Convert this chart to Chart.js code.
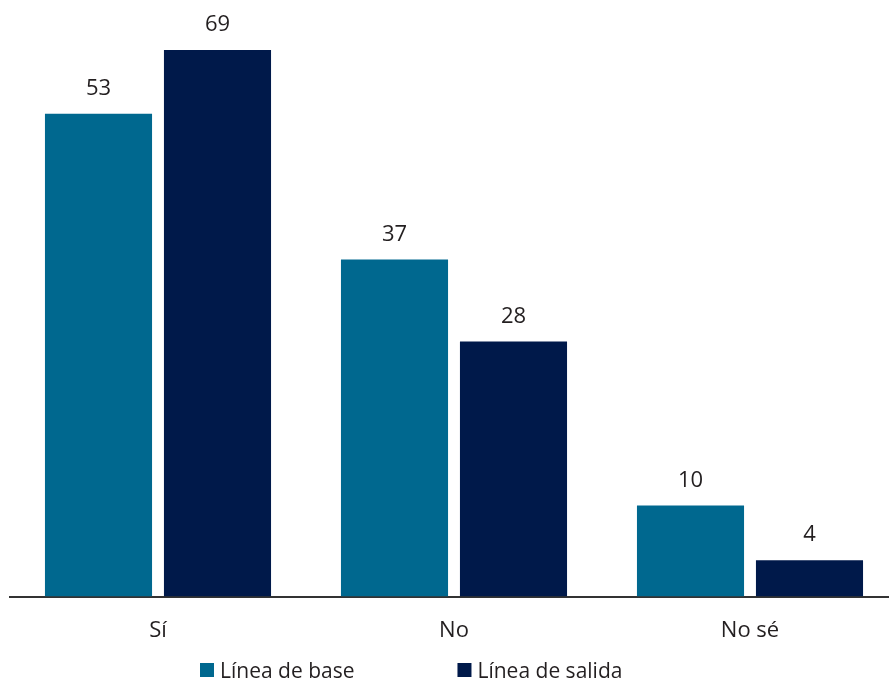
<!DOCTYPE html>
<html>
<head>
<meta charset="utf-8">
<script src="https://cdn.jsdelivr.net/npm/chart.js@4"></script>
<style>
  html, body { margin: 0; padding: 0; background: #fff; overflow: hidden; width: 889px; height: 682px; }
  #wrap { position: relative; width: 898px; height: 682px; }
</style>
</head>
<body>
<div id="wrap"><canvas id="c" width="898" height="682"></canvas></div>
<script>
const categories = ['Sí', 'No', 'No sé'];
const seriesNames = ['Línea de base', 'Línea de salida'];
const baseValues = [53, 37, 10];
const exitValues = [69, 28, 4];
const seriesColors = ['#00688F', '#00194A'];
const yMax = 60;

const FONT = '"Open Sans", "Noto Sans", sans-serif';
const TEXT_COLOR = '#231F20';

const valueLabels = {
  id: 'valueLabels',
  afterDatasetsDraw(chart) {
    const ctx = chart.ctx;
    const top = chart.chartArea.top;
    ctx.save();
    ctx.font = '22px ' + FONT;
    ctx.fillStyle = TEXT_COLOR;
    ctx.textAlign = 'center';
    ctx.textBaseline = 'alphabetic';
    chart.data.datasets.forEach((ds, i) => {
      const meta = chart.getDatasetMeta(i);
      meta.data.forEach((bar, j) => {
        const y = Math.max(bar.y, top);
        ctx.fillText(String(ds.data[j]), bar.x, y - 19);
      });
    });
    ctx.restore();
  }
};

const customLegend = {
  id: 'customLegend',
  afterDraw(chart) {
    const ctx = chart.ctx;
    ctx.save();
    ctx.font = '21px ' + FONT;
    ctx.textBaseline = 'alphabetic';
    ctx.textAlign = 'left';
    let x = 200;
    const baseline = 678;
    chart.data.datasets.forEach((ds, i) => {
      ctx.fillStyle = ds.backgroundColor;
      ctx.fillRect(x, baseline - 15, 14, 14);
      ctx.fillStyle = TEXT_COLOR;
      ctx.fillText(ds.label, x + 20, baseline);
      x += 20 + ctx.measureText(ds.label).width + 103;
    });
    ctx.restore();
  }
};

new Chart(document.getElementById('c'), {
  type: 'bar',
  data: {
    labels: categories,
    datasets: [
      { label: seriesNames[0], data: baseValues, backgroundColor: seriesColors[0] },
      { label: seriesNames[1], data: exitValues, backgroundColor: seriesColors[1] }
    ]
  },
  options: {
    responsive: false,
    animation: false,
    devicePixelRatio: 1,
    layout: { padding: { top: 50, left: 10, right: 0, bottom: 17 } },
    datasets: { bar: { clip: 0, categoryPercentage: 0.804, barPercentage: 0.9 } },
    plugins: { legend: { display: false }, tooltip: { enabled: false } },
    scales: {
      x: {
        z: 1,
        grid: { display: false, drawTicks: false },
        border: { display: true, color: '#333333', width: 2 },
        ticks: { color: TEXT_COLOR, font: { family: FONT, size: 22 }, padding: 21 }
      },
      y: {
        display: false,
        min: 0,
        max: yMax
      }
    }
  },
  plugins: [valueLabels, customLegend]
});
</script>
</body>
</html>
